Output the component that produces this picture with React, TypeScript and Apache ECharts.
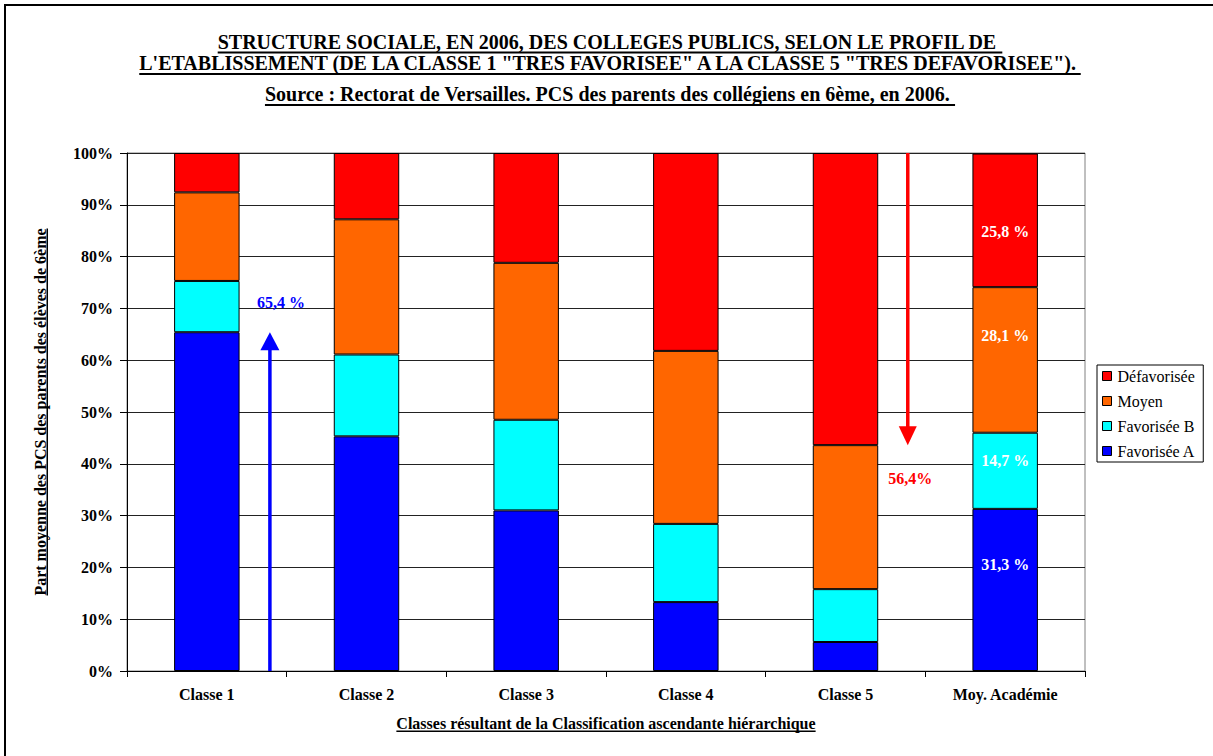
import React, { useEffect, useRef } from 'react';
import * as echarts from 'echarts';

const categories = ['Classe 1', 'Classe 2', 'Classe 3', 'Classe 4', 'Classe 5', 'Moy. Académie'];
const favoriseeA = [65.4, 45.3, 31.0, 13.3, 5.6, 31.3];
const favoriseeB = [9.9, 15.8, 17.5, 15.1, 10.2, 14.7];
const moyen = [17.1, 26.1, 30.3, 33.4, 27.8, 28.1];
const defavorisee = [7.6, 12.8, 21.2, 38.2, 56.4, 25.8];
const seriesNames = ['Favorisée A', 'Favorisée B', 'Moyen', 'Défavorisée'];
const legendOrder = ['Défavorisée', 'Moyen', 'Favorisée B', 'Favorisée A'];
const titleLines = [
  'STRUCTURE SOCIALE, EN 2006, DES COLLEGES PUBLICS, SELON LE PROFIL DE ',
  'L\'ETABLISSEMENT (DE LA CLASSE 1 "TRES FAVORISEE" A LA CLASSE 5 "TRES DEFAVORISEE").',
  'Source : Rectorat de Versailles. PCS des parents des collégiens en 6ème, en 2006. ',
];
const yAxisTitle = 'Part moyenne des PCS des parents des élèves de 6ème';
const xAxisTitle = 'Classes résultant de la Classification ascendante hiérarchique';

const FONT = '"Liberation Serif", "Times New Roman", serif';
const fmt = (v: number) => v.toFixed(1).replace('.', ',');

function measure(text: string, font: string): number {
  const c = document.createElement('canvas');
  const ctx = c.getContext('2d')!;
  ctx.font = font;
  return ctx.measureText(text).width;
}

export default function App() {
  const ref = useRef<HTMLDivElement>(null);
  useEffect(() => {
    if (!ref.current) return;
    const chart = echarts.init(ref.current, null, { renderer: 'svg' });
    const colors = ['#0000FF', '#00FFFF', '#FF6600', '#FF0000'];
    const datasets = [favoriseeA, favoriseeB, moyen, defavorisee];
    const labelOffsets = [[0, -25], [0, -10], [0, -24], [0, 11]];
    const last = categories.length - 1;
    chart.setOption({
      animation: false,
      grid: {
        left: 127, right: 128, top: 153, bottom: 85,
        show: true, borderColor: '#808080', borderWidth: 1, backgroundColor: 'transparent',
      },
      legend: {
        data: legendOrder,
        orient: 'vertical',
        left: 1097, top: 365,
        padding: [3, 8, 3, 5],
        itemWidth: 9, itemHeight: 9, itemGap: 9,
        icon: 'rect',
        borderColor: '#000', borderWidth: 1,
        textStyle: { fontFamily: FONT, fontSize: 16, color: '#000', padding: [0, 0, 0, 1] },
        itemStyle: { borderColor: '#000', borderWidth: 1 },
      },
      xAxis: {
        type: 'category',
        data: categories,
        axisLine: { lineStyle: { color: '#000', width: 1 } },
        axisTick: { show: true, length: 6, lineStyle: { color: '#000' } },
        axisLabel: { fontFamily: FONT, fontSize: 16, fontWeight: 'bold', color: '#000', margin: 15 },
      },
      yAxis: {
        type: 'value', min: 0, max: 100, interval: 10,
        axisLine: { show: true, lineStyle: { color: '#000', width: 1 } },
        axisTick: { show: true, length: 7, lineStyle: { color: '#000' } },
        axisLabel: { formatter: '{value}%', fontFamily: FONT, fontSize: 16, fontWeight: 'bold', color: '#000', margin: 14 },
        splitLine: { lineStyle: { color: '#222', width: 1 } },
      },
      series: datasets.map((arr, si) => ({
        name: seriesNames[si],
        type: 'bar',
        stack: 'total',
        barWidth: '41%',
        itemStyle: { color: colors[si], borderColor: '#000', borderWidth: 1 },
        label: {
          show: false,
          position: 'inside',
          offset: labelOffsets[si],
          color: '#fff',
          fontFamily: FONT, fontSize: 16, fontWeight: 'bold',
          formatter: (p: any) => fmt(p.value) + ' %',
        },
        data: arr.map((v, i) => (i === last ? { value: v, label: { show: true } } : v)),
      })),
    });

    const px = (cat: number, val: number) => chart.convertToPixel({ gridIndex: 0 }, [categories[cat], val]) as number[];
    const band = px(1, 0)[0] - px(0, 0)[0];

    const graphics: any[] = [];
    // outer frame (only top & left visible)
    graphics.push({ type: 'rect', shape: { x: 5, y: 5, width: 1400, height: 1000 }, style: { fill: 'none', stroke: '#000', lineWidth: 2 }, silent: true });

    // titles
    const titleFont = `bold 20px ${FONT}`;
    const baselines = [49, 70, 101];
    const underlineY = [51.5, 73, 104];
    titleLines.forEach((t, i) => {
      const w = measure(t, titleFont);
      const left = 610 - w / 2;
      graphics.push({
        type: 'text',
        style: { text: t.replace(/\s+$/, ''), x: left, y: baselines[i] - 6.75, align: 'left', verticalAlign: 'middle', font: titleFont, fill: '#000' },
      });
      graphics.push({ type: 'rect', shape: { x: left, y: underlineY[i], width: w, height: 2 }, style: { fill: '#000' } });
    });

    // y axis title (rotated)
    const axFont = `bold 16px ${FONT}`;
    const yW = measure(yAxisTitle, axFont);
    const yMid = (px(0, 0)[1] + px(0, 100)[1]) / 2;
    graphics.push({
      type: 'text', x: 40, y: yMid, rotation: Math.PI / 2,
      style: { text: yAxisTitle, x: 0, y: 0, align: 'center', verticalAlign: 'middle', font: axFont, fill: '#000' },
    });
    graphics.push({ type: 'rect', shape: { x: 46.5, y: yMid - yW / 2, width: 1.5, height: yW }, style: { fill: '#000' } });

    // x axis title
    const xW = measure(xAxisTitle, axFont);
    const xMid = (px(0, 0)[0] - band / 2 + px(last, 0)[0] + band / 2) / 2;
    graphics.push({
      type: 'text',
      style: { text: xAxisTitle, x: xMid, y: 723, align: 'center', verticalAlign: 'middle', font: axFont, fill: '#000' },
    });
    graphics.push({ type: 'rect', shape: { x: xMid - xW / 2, y: 730.5, width: xW, height: 1.5 }, style: { fill: '#000' } });

    // blue arrow (Classe 1, Favorisée A)
    const bx = px(0, 0)[0] + 0.395 * band;
    const by0 = px(0, 0)[1];
    const byTip = px(0, favoriseeA[0])[1];
    graphics.push({ type: 'line', shape: { x1: bx, y1: by0, x2: bx, y2: byTip + 16 }, style: { stroke: '#0000FF', lineWidth: 3.5 } });
    graphics.push({ type: 'polygon', shape: { points: [[bx, byTip], [bx - 9.5, byTip + 18], [bx + 9.5, byTip + 18]] }, style: { fill: '#0000FF' } });
    graphics.push({
      type: 'text',
      style: { text: fmt(favoriseeA[0]) + ' %', x: bx + 11, y: byTip - 30, align: 'center', verticalAlign: 'middle', font: axFont, fill: '#0000FF' },
    });

    // red arrow (Classe 5, Défavorisée)
    const rx = px(4, 0)[0] + 0.39 * band;
    const ryTop = px(4, 100)[1];
    const ryTip = px(4, 100 - defavorisee[4])[1];
    graphics.push({ type: 'line', shape: { x1: rx, y1: ryTop, x2: rx, y2: ryTip - 17 }, style: { stroke: '#FF0000', lineWidth: 3.5 } });
    graphics.push({ type: 'polygon', shape: { points: [[rx, ryTip], [rx - 9, ryTip - 19], [rx + 9, ryTip - 19]] }, style: { fill: '#FF0000' } });
    graphics.push({
      type: 'text',
      style: { text: fmt(defavorisee[4]) + '%', x: rx + 2.5, y: ryTip + 33, align: 'center', verticalAlign: 'middle', font: axFont, fill: '#FF0000' },
    });

    chart.setOption({ graphic: graphics });
    return () => chart.dispose();
  }, []);
  return <div ref={ref} style={{ position: 'absolute', left: 0, top: 0, width: 1213, height: 756, background: '#fff' }} />;
}
